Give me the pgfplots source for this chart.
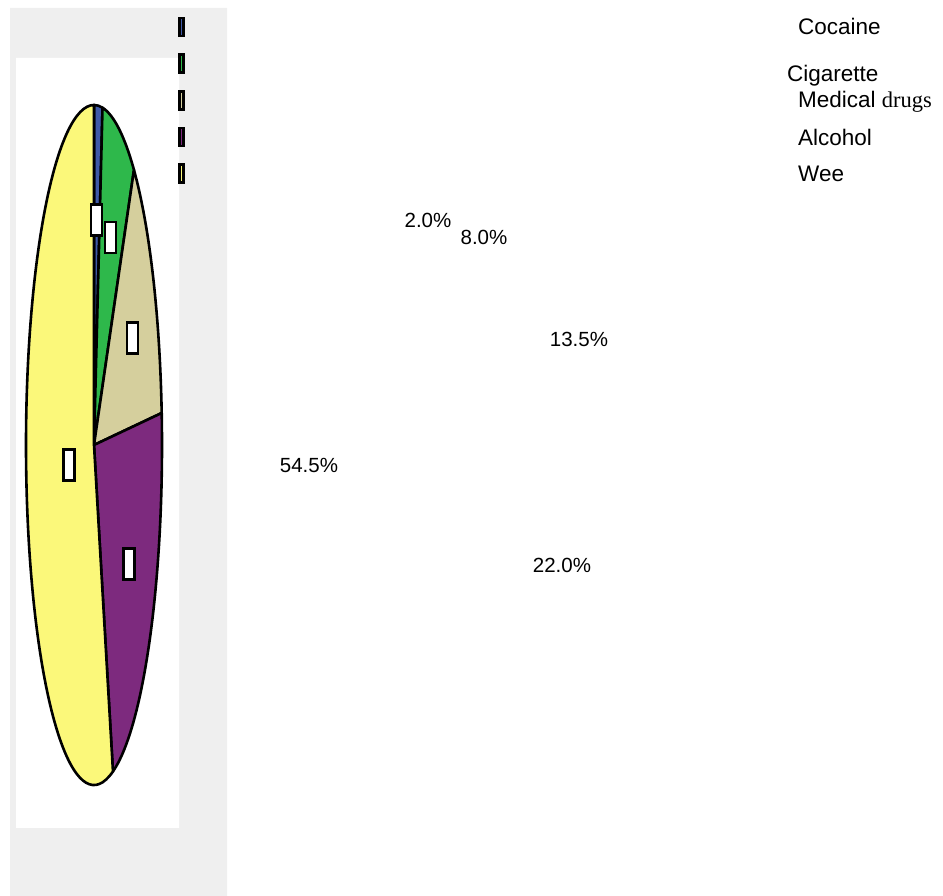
\documentclass[border=0pt]{standalone}
\usepackage{fontspec}
\setmainfont{Liberation Sans}
\newfontfamily\serifdrugs{Liberation Serif}
\usepackage{pgfplots}
\pgfplotsset{compat=1.18}

\definecolor{panelgrey}{HTML}{EFEFEF}
\definecolor{cocblue}{HTML}{3F5AA8}
\definecolor{ciggreen}{HTML}{2EB84B}
\definecolor{medtan}{HTML}{D5CF9D}
\definecolor{alcpurple}{HTML}{7D2A7E}
\definecolor{weeyellow}{HTML}{FBF87A}

% white label box sitting on each slice
\pgfdeclareplotmark{lbox}{%
  \pgfpathrectangle{\pgfpoint{-5.5pt}{-15.5pt}}{\pgfpoint{11pt}{31pt}}%
  \pgfusepathqfillstroke}
% narrow legend key
\pgfdeclareplotmark{lkey}{%
  \pgfpathrectangle{\pgfpoint{-2pt}{-9pt}}{\pgfpoint{4pt}{18pt}}%
  \pgfusepathqfillstroke}

\begin{document}
\begin{tikzpicture}
\begin{axis}[
    x=1pt, y=1pt,
    xmin=0, xmax=943,
    ymin=0, ymax=896,
    hide axis,
    clip=false,
]
% bounding box
\addplot[draw=none, forget plot] coordinates {(0,0)(943,896)};

% panels
\addplot[fill=panelgrey, draw=none] coordinates {(10,0)(227,0)(227,888)(10,888)(10,0)};
\addplot[fill=white, draw=none] coordinates {(16,68)(179,68)(179,838)(16,838)(16,68)};

% pie slices: 2.0, 8.0, 13.5, 22.0, 54.5 % clockwise from the top
\draw[fill=cocblue, line width=2.6pt, line join=round] (axis cs:94,451) -- ++(90:68pt and 340pt)
    arc[start angle=90, end angle=82.8, x radius=68pt, y radius=340pt] -- cycle;
\draw[fill=ciggreen, line width=2.6pt, line join=round] (axis cs:94,451) -- ++(82.8:68pt and 340pt)
    arc[start angle=82.8, end angle=54, x radius=68pt, y radius=340pt] -- cycle;
\draw[fill=medtan, line width=2.6pt, line join=round] (axis cs:94,451) -- ++(54:68pt and 340pt)
    arc[start angle=54, end angle=5.4, x radius=68pt, y radius=340pt] -- cycle;
\draw[fill=alcpurple, line width=2.6pt, line join=round] (axis cs:94,451) -- ++(5.4:68pt and 340pt)
    arc[start angle=5.4, end angle=-73.8, x radius=68pt, y radius=340pt] -- cycle;
\draw[fill=weeyellow, line width=2.6pt, line join=round] (axis cs:94,451) -- ++(-73.8:68pt and 340pt)
    arc[start angle=-73.8, end angle=-270, x radius=68pt, y radius=340pt] -- cycle;

% label boxes
\addplot[only marks, mark=lbox, mark options={fill=white, draw=black, line width=2.5pt}]
    coordinates {(96.5,676)(110.5,658.5)(132.5,558)(69,431)(129,332)};

% legend keys
\addplot[only marks, mark=lkey, mark options={fill=cocblue, draw=black, line width=2.5pt}] coordinates {(181.5,869)};
\addplot[only marks, mark=lkey, mark options={fill=ciggreen, draw=black, line width=2.5pt}] coordinates {(181.5,832.5)};
\addplot[only marks, mark=lkey, mark options={fill=medtan, draw=black, line width=2.5pt}] coordinates {(181.5,795.5)};
\addplot[only marks, mark=lkey, mark options={fill=alcpurple, draw=black, line width=2.5pt}] coordinates {(181.5,759)};
\addplot[only marks, mark=lkey, mark options={fill=weeyellow, draw=black, line width=2.5pt}] coordinates {(181.5,722.5)};

% legend texts
\begin{scope}[font=\fontsize{22.5}{26}\selectfont]
\node[anchor=base west, inner sep=0pt] at (axis cs:798,861) {Cocaine};
\node[anchor=base west, inner sep=0pt] at (axis cs:787,814) {Cigarette};
\node[anchor=base west, inner sep=0pt] at (axis cs:798,788) {Medical {\serifdrugs drugs}};
\node[anchor=base west, inner sep=0pt] at (axis cs:798,750) {Alcohol};
\node[anchor=base west, inner sep=0pt] at (axis cs:798,714) {Wee};
\end{scope}

% percentages
\begin{scope}[font=\fontsize{20.5}{24}\selectfont]
\node[anchor=base, inner sep=0pt] at (axis cs:428,668) {2.0\%};
\node[anchor=base, inner sep=0pt] at (axis cs:484,651) {8.0\%};
\node[anchor=base, inner sep=0pt] at (axis cs:579,549) {13.5\%};
\node[anchor=base, inner sep=0pt] at (axis cs:309,423) {54.5\%};
\node[anchor=base, inner sep=0pt] at (axis cs:562,323) {22.0\%};
\end{scope}
\end{axis}
\end{tikzpicture}
\end{document}
